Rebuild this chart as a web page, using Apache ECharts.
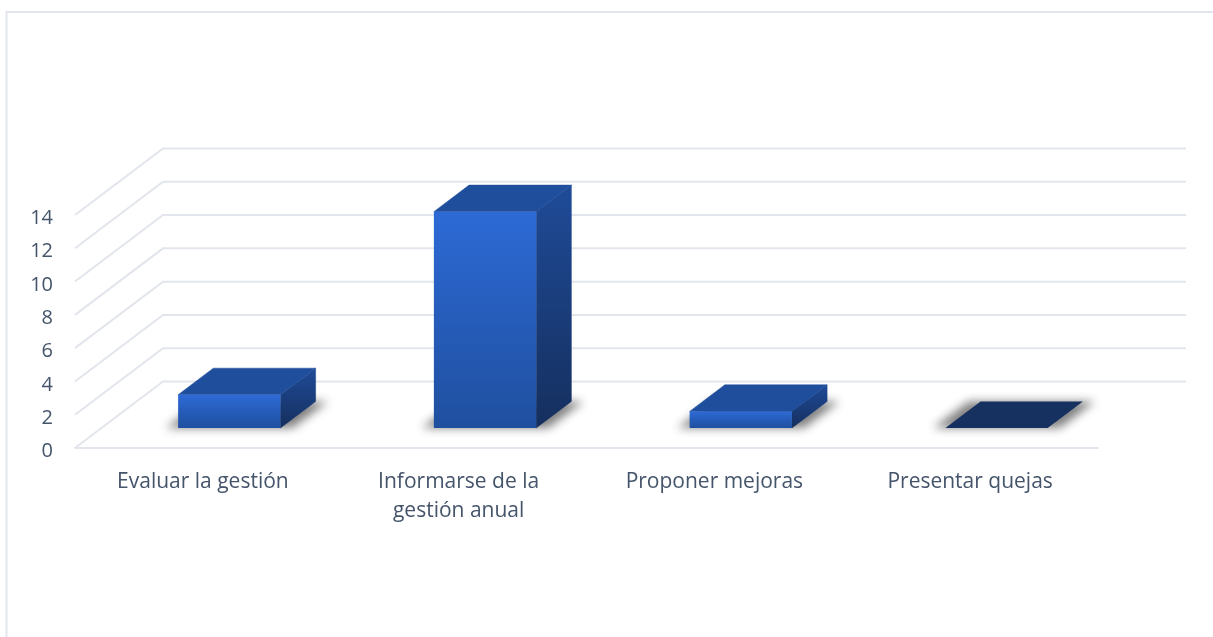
<!DOCTYPE html>
<html>
<head>
<meta charset="utf-8">
<style>html,body{margin:0;padding:0;background:#fff}#c{width:1213px;height:637px}</style>
<script src="https://cdn.jsdelivr.net/npm/echarts@6/dist/echarts.min.js"></script>
</head>
<body>
<div id="c"></div>
<script>
var categories = ['Evaluar la gestión', 'Informarse de la\ngestión anual', 'Proponer mejoras', 'Presentar quejas'];
var values = [2, 13, 1, 0];
var yTicks = [0, 2, 4, 6, 8, 10, 12, 14];

var DEPTH_X = 88, DEPTH_Y = 66.5;
var GRID_COLOR = '#E2E6EC', TEXT_COLOR = '#44546A', FONT = '"Open Sans"';

function vgrad(a, b) {
  return {type: 'linear', x: 0, y: 0, x2: 0, y2: 1, colorStops: [{offset: 0, color: a}, {offset: 1, color: b}]};
}

function renderWall(params, api) {
  var cs = params.coordSys;
  var y = api.coord([0, api.value(1)])[1];
  var style = {stroke: GRID_COLOR, lineWidth: 2, fill: null};
  return {type: 'group', children: [
    {type: 'polyline', shape: {points: [[cs.x, y], [cs.x + DEPTH_X, y - DEPTH_Y], [cs.x + cs.width + DEPTH_X, y - DEPTH_Y]]}, style: style}
  ]};
}

function renderBar(params, api) {
  var v = api.value(1);
  var base = api.coord([api.value(0), 0]);
  var top = api.coord([api.value(0), v]);
  var w = api.size([1, 0])[0] * 0.4;
  var f0 = 0.3, f1 = 0.7;
  var ox = DEPTH_X * f0, oy = DEPTH_Y * f0;
  var dx = DEPTH_X * (f1 - f0), dy = DEPTH_Y * (f1 - f0);
  var xl = base[0] - w / 2 + ox, xr = xl + w;
  var yb = base[1] - oy, yt = top[1] - oy;
  var far = 4000;
  var spread = 12;
  var kids = [
    {type: 'polygon',
     shape: {points: [[xl - spread - far, yb], [xr + spread - far, yb], [xr + dx + spread - far, yb - dy], [xl + dx - spread - far, yb - dy]]},
     style: {fill: '#000', shadowColor: 'rgba(50,50,50,0.62)', shadowBlur: 10, shadowOffsetX: far}}
  ];
  if (v > 0) {
    var side = vgrad('#1F4B98', '#152F5E');
    kids.push(
      {type: 'polygon', shape: {points: [[xr, yt], [xr + dx, yt - dy], [xr + dx, yb - dy], [xr, yb]]},
       style: {fill: side, stroke: side, lineWidth: 0.5}},
      {type: 'polygon', shape: {points: [[xl, yt], [xr, yt], [xr + dx, yt - dy], [xl + dx, yt - dy]]},
       style: {fill: '#1F4E9D', stroke: '#1F4E9D', lineWidth: 0.5}},
      {type: 'rect', shape: {x: xl, y: yt, width: w, height: yb - yt},
       style: {fill: vgrad('#2D6AD5', '#1F4F9F')}}
    );
  } else {
    kids.push({type: 'polygon', shape: {points: [[xl, yt], [xr, yt], [xr + dx, yt - dy], [xl + dx, yt - dy]]},
       style: {fill: '#16305F'}});
  }
  return {type: 'group', children: kids};
}

var chart = echarts.init(document.getElementById('c'), null, {renderer: 'canvas'});
chart.setOption({
  animation: false,
  backgroundColor: '#fff',
  grid: {left: 75, right: 115, top: 215, bottom: 189},
  graphic: [
    {type: 'polyline', silent: true, z: 0, shape: {points: [[6.5, 637], [6.5, 12], [1213, 12]]},
     style: {stroke: GRID_COLOR, lineWidth: 2, fill: null}}
  ],
  xAxis: {
    type: 'category', data: categories,
    axisTick: {show: false},
    axisLine: {lineStyle: {color: GRID_COLOR, width: 2}},
    axisLabel: {color: TEXT_COLOR, fontFamily: FONT, fontSize: 21, lineHeight: 29, margin: 20, interval: 0}
  },
  yAxis: {
    type: 'value', min: 0, max: 14, interval: 2,
    axisLine: {show: false}, axisTick: {show: false}, splitLine: {show: false},
    axisLabel: {color: TEXT_COLOR, fontFamily: FONT, fontSize: 20, margin: 22, verticalAlign: 'top', lineHeight: 7,
      formatter: function (v) { return String(v); }}
  },
  series: [
    {type: 'custom', silent: true, z: 1, renderItem: renderWall, encode: {x: 0, y: 1},
     data: yTicks.map(function (t) { return [0, t]; })},
    {type: 'custom', silent: true, z: 2, renderItem: renderBar, encode: {x: 0, y: 1},
     data: values.map(function (v, i) { return [i, v]; })}
  ]
});
</script>
</body>
</html>
